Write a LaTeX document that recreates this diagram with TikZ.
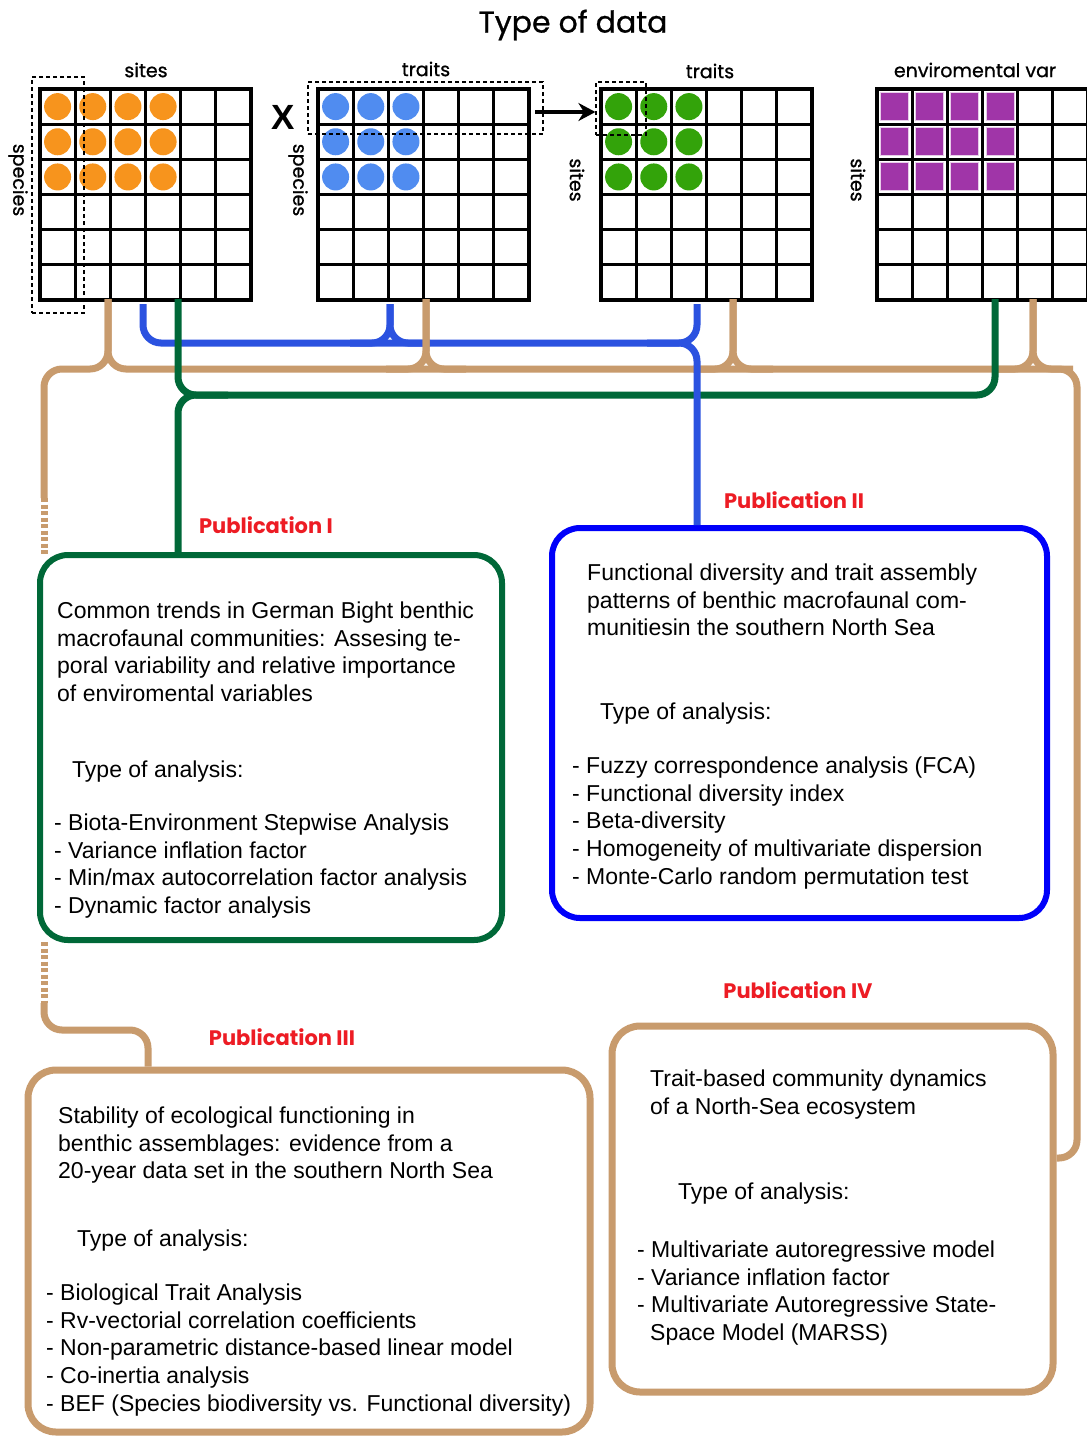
\documentclass[tikz,border=0pt]{standalone}
\usepackage{fontspec}
\setmainfont{Liberation Sans}
\newfontfamily\geofont{Poppins}
\newfontfamily\geofontm[FakeBold=0.8]{Poppins}
\usetikzlibrary{arrows.meta,positioning}

\definecolor{dotorange}{RGB}{247,148,29}
\definecolor{dotblue}{RGB}{80,140,240}
\definecolor{dotgreen}{RGB}{51,163,10}
\definecolor{sqpurple}{RGB}{160,53,168}
\definecolor{linktan}{RGB}{200,155,109}
\definecolor{linkblue}{RGB}{43,82,224}
\definecolor{linkgreen}{RGB}{0,104,56}
\definecolor{boxblue}{RGB}{0,0,250}
\definecolor{pubred}{RGB}{237,28,36}

\tikzset{
  gridline/.style={line width=3pt},
  dot/.style={circle, inner sep=0pt, minimum size=27pt},
  sq/.style={rectangle, inner sep=0pt, minimum size=28pt, fill=sqpurple, draw=white!75!sqpurple, line width=1pt},
  sel/.style={draw, dash pattern=on 4pt off 3pt, line width=1.2pt, inner sep=0pt},
  axis/.style={font=\geofontm\fontsize{19}{22}\selectfont},
  link/.style={line width=7pt, rounded corners=18pt},
  pubbox/.style={rectangle, rounded corners=28pt, line width=6pt},
  pubtitle/.style={text=pubred, font=\geofont\bfseries\fontsize{21}{25}\selectfont},
  body/.style={anchor=north west, inner sep=0pt, align=left, font=\fontsize{23}{27.7}\selectfont},
}

\begin{document}
\begin{tikzpicture}[x=1pt, y=-1pt]
\fill[white] (0,0) rectangle (1087,1436);
\useasboundingbox (0,0) rectangle (1087,1436);

\node[font=\geofontm\fontsize{30}{34}\selectfont] (title) at (573,25) {Type of data};

% data matrices
\foreach \gx/\gname in {40/mA, 318/mB, 601/mC, 877/mD} {
  \foreach \i in {1,...,5} {
    \draw[gridline] (\gx+\i*35.17, 89) -- (\gx+\i*35.17, 300);
    \draw[gridline] (\gx, 89+\i*35.17) -- (\gx+211, 89+\i*35.17);
  }
  \node[draw, line width=3.5pt, minimum width=211pt, minimum height=211pt, inner sep=0pt] (\gname) at (\gx+105.5, 194.5) {};
}

\foreach \c in {0,...,3} \foreach \r in {0,...,2}
  \node[dot, fill=dotorange] (oA\c\r) at (57.6+\c*35.17, 106.6+\r*35.17) {};
\foreach \c in {0,...,2} \foreach \r in {0,...,2}
  \node[dot, fill=dotblue] (oB\c\r) at (335.6+\c*35.17, 106.6+\r*35.17) {};
\foreach \c in {0,...,2} \foreach \r in {0,...,2}
  \node[dot, fill=dotgreen] (oC\c\r) at (618.6+\c*35.17, 106.6+\r*35.17) {};
\foreach \c in {0,...,3} \foreach \r in {0,...,2}
  \node[sq] (sD\c\r) at (894.6+\c*35.17, 106.6+\r*35.17) {};

\node[sel, minimum width=52pt, minimum height=236pt] (selA) at (58,195) {};
\node[sel, minimum width=235pt, minimum height=52pt] (selB) at (425.5,108) {};
\node[sel, minimum width=50pt, minimum height=53pt] (selC) at (621,108.5) {};

\node[axis] (lblA) at (146,70) {sites};
\node[axis, rotate=-90] (lblAs) at (18,180) {species};
\node[axis] (lblB) at (426,69) {traits};
\node[axis, rotate=-90] (lblBs) at (298,180) {species};
\node[axis] (lblC) at (710,71) {traits};
\node[axis, rotate=-90] (lblCs) at (577,180) {sites};
\node[axis] (lblD) at (975,70) {enviromental var};
\node[axis, rotate=-90] (lblDs) at (858,180) {sites};

\node[font=\bfseries\fontsize{35}{36}\selectfont] (times) at (283,117) {X};
\coordinate (arrS) at (535,112);
\draw[line width=4pt, -{Stealth[length=17pt, width=18pt]}] (arrS) -- (arrS -| selC.west);

% publication boxes
\node[pubbox, draw=linkgreen, minimum width=462pt, minimum height=385pt] (pubI) at (271,747.5) {};
\node[pubbox, draw=boxblue, minimum width=495pt, minimum height=390pt] (pubII) at (799.5,723) {};
\node[pubbox, draw=linktan, line width=7pt, minimum width=562pt, minimum height=362pt] (pubIII) at (309,1251) {};
\node[pubbox, draw=linktan, line width=7pt, minimum width=441pt, minimum height=366pt] (pubIV) at (832.5,1209) {};

\node[pubtitle] (labI) at (266,525) {Publication I};
\node[pubtitle] (labII) at (794,500) {Publication II};
\node[pubtitle] (labIII) at (282,1037) {Publication III};
\node[pubtitle] (labIV) at (798,990) {Publication IV};

% connectors
\coordinate (tA) at (108,299);
\coordinate (bA) at (143,304);
\coordinate (gA) at (178,299);
\coordinate (bB) at (390,304);
\coordinate (tB) at (426,299);
\coordinate (bC) at (697,304);
\coordinate (tC) at (733,299);
\coordinate (gD) at (995,299);
\coordinate (tD) at (1033,299);
\coordinate (rowB) at (0,343);
\coordinate (rowT) at (0,369);
\coordinate (rowG) at (0,395);

\draw[link, linkblue] (bA) -- (bA |- rowB) -- (bC |- rowB) -- (bC);
\draw[link, linkblue] (bB) -- (bB |- rowB) -- ++(-40,0);
\draw[link, linkblue] (bB) -- (bB |- rowB) -- ++(40,0);

\draw[link, linktan] (tA) -- (tA |- rowT) -- (44,369) -- (44,498);
\draw[link, linktan, dash pattern=on 4pt off 2.5pt] (44,498) -- (44,555);
\draw[link, linktan, dash pattern=on 4pt off 2.5pt] (44,942) -- (44,1003);
\draw[link, linktan] (44,1003) -- (44,1030) -- (148,1030) -- (pubIII.north -| 148,0);
\draw[link, linktan] (tA) -- (tA |- rowT) -- (1077,369) -- (1077,1158) -- (pubIV.east |- 0,1158);
\foreach \t in {tB,tC,tD} {
  \draw[link, linktan] (\t) -- (\t |- rowT) -- ++(-40,0);
  \draw[link, linktan] (\t) -- (\t |- rowT) -- ++(40,0);
}

\draw[link, linkgreen] (gA) -- (gA |- rowG) -- (gD |- rowG) -- (gD);
\draw[link, linkgreen] ([xshift=50pt]gA |- rowG) -- (gA |- rowG) -- (pubI.north -| gA);

\draw[link, linkblue] ([xshift=-50pt]bC |- rowB) -- (bC |- rowB) -- (pubII.north -| bC);

% box texts
\node[body] (txtI) at (57,601.5) {Common trends in German Bight benthic\\macrofaunal communities: Assesing te-\\poral variability and relative importance\\of enviromental variables};
\node[body] (typI) at (72,760.5) {Type of analysis:};
\node[body] (lstI) at (54,813.5) {- Biota-Environment Stepwise Analysis\\- Variance inflation factor\\- Min/max autocorrelation factor analysis\\- Dynamic factor analysis};

\node[body] (txtII) at (587,563.5) {Functional diversity and trait assembly\\patterns of benthic macrofaunal com-\\munitiesin the southern North Sea};
\node[body] (typII) at (600,702.5) {Type of analysis:};
\node[body] (lstII) at (572,756.5) {- Fuzzy correspondence analysis (FCA)\\- Functional diversity index\\- Beta-diversity\\- Homogeneity of multivariate dispersion\\- Monte-Carlo random permutation test};

\node[body] (txtIII) at (58,1106.5) {Stability of ecological functioning in\\benthic assemblages: evidence from a\\20-year data set in the southern North Sea};
\node[body] (typIII) at (77,1229.5) {Type of analysis:};
\node[body] (lstIII) at (46,1283.5) {- Biological Trait Analysis\\- Rv-vectorial correlation coefficients\\- Non-parametric distance-based linear model\\- Co-inertia analysis\\- BEF (Species biodiversity vs. Functional diversity)};

\node[body] (txtIV) at (650,1069.5) {Trait-based community dynamics\\of a North-Sea ecosystem};
\node[body] (typIV) at (678,1182.5) {Type of analysis:};
\node[body] (lstIV) at (637,1240.5) {- Multivariate autoregressive model\\- Variance inflation factor\\- Multivariate Autoregressive State-\\\hspace*{13pt}Space Model (MARSS)};
\end{tikzpicture}
\end{document}
